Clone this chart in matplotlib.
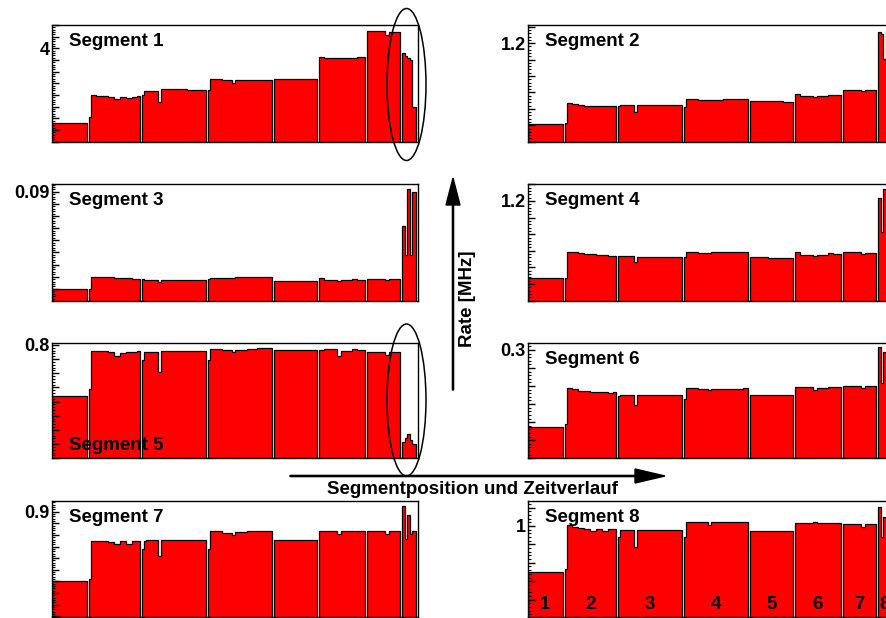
import matplotlib
matplotlib.use('Agg')
import matplotlib.pyplot as plt
import matplotlib.transforms as mtrans
from matplotlib.patches import Ellipse
from matplotlib.ticker import MultipleLocator, FuncFormatter
import numpy as np

plt.rcParams['font.family'] = ['Liberation Sans', 'DejaVu Sans']
plt.rcParams['font.weight'] = 'bold'

# bin edges of the 8 detector positions (same binning in every segment)
seg_edges = [
    [0, 35],
    [37, 39, 44, 50, 56, 62, 68, 74, 80, 85, 88],
    [90, 92, 94, 106, 109, 120, 135, 154],
    [156, 158, 170, 180, 183, 195, 205, 215, 220],
    [222, 240, 255, 265],
    [267, 272, 285, 289, 300, 305, 313],
    [315, 320, 333, 337, 348],
    [350, 353, 355, 358, 360, 362, 364],
]
x_end = 366
pos_labels = ['1', '2', '3', '4', '5', '6', '7', '8']

# rates [MHz] per position, one list per segment
rate_seg1 = [
    [3.363],
    [3.41, 3.60, 3.595, 3.59, 3.585, 3.566, 3.585, 3.575, 3.58, 3.588],
    [3.60, 3.637, 3.637, 3.543, 3.649, 3.648, 3.646],
    [3.64, 3.735, 3.73, 3.706, 3.728, 3.727, 3.728, 3.725],
    [3.74, 3.74, 3.735],
    [3.923, 3.92, 3.915, 3.92, 3.92, 3.922],
    [4.149, 4.145, 4.114, 4.137],
    [3.957, 3.935, 3.915, 3.90, 3.50, 3.50],
]
rate_seg2 = [
    [0.954],
    [0.958, 1.017, 1.015, 1.012, 1.010, 1.008, 1.009, 1.009, 1.010, 1.010],
    [1.009, 1.012, 1.012, 0.989, 1.013, 1.013, 1.013],
    [1.006, 1.030, 1.028, 1.026, 1.028, 1.029, 1.029, 1.030],
    [1.023, 1.023, 1.022],
    [1.045, 1.039, 1.037, 1.038, 1.043, 1.041],
    [1.058, 1.057, 1.053, 1.057],
    [1.233, 1.228, 1.153, 1.238, 1.20, 1.18],
]
rate_seg3 = [
    [0.0501],
    [0.0498, 0.0549, 0.0549, 0.0548, 0.0547, 0.0546, 0.0545, 0.0544, 0.0542, 0.0541],
    [0.0539, 0.0538, 0.0537, 0.0527, 0.0537, 0.0538, 0.0538],
    [0.0540, 0.0546, 0.0546, 0.0546, 0.0547, 0.0548, 0.0549, 0.0547],
    [0.0533, 0.0533, 0.0532],
    [0.0545, 0.0535, 0.0534, 0.0536, 0.0540, 0.0538],
    [0.0539, 0.0539, 0.0538, 0.0539],
    [0.0759, 0.0640, 0.0910, 0.0640, 0.0900, 0.0900],
]
rate_seg4 = [
    [0.969],
    [0.967, 1.047, 1.045, 1.043, 1.041, 1.039, 1.038, 1.036, 1.035, 1.034],
    [1.033, 1.034, 1.034, 1.017, 1.031, 1.030, 1.030],
    [1.032, 1.046, 1.044, 1.043, 1.045, 1.045, 1.046, 1.047],
    [1.030, 1.029, 1.029],
    [1.045, 1.036, 1.035, 1.038, 1.043, 1.040],
    [1.046, 1.045, 1.041, 1.042],
    [1.21, 1.1075, 1.235, 1.20, 1.22, 1.22],
]
rate_seg5 = [
    [0.621],
    [0.645, 0.780, 0.779, 0.777, 0.776, 0.762, 0.773, 0.774, 0.776, 0.777],
    [0.747, 0.776, 0.776, 0.7035, 0.780, 0.779, 0.779],
    [0.747, 0.785, 0.783, 0.775, 0.783, 0.787, 0.788, 0.790],
    [0.782, 0.783, 0.782],
    [0.784, 0.785, 0.761, 0.780, 0.785, 0.784],
    [0.776, 0.776, 0.765, 0.775],
    [0.4586, 0.470, 0.4857, 0.465, 0.451, 0.450],
]
rate_seg6 = [
    [0.2575],
    [0.2588, 0.2788, 0.2782, 0.2775, 0.2770, 0.2767, 0.2768, 0.2766, 0.2764, 0.2766],
    [0.2745, 0.2752, 0.2752, 0.2695, 0.2748, 0.2748, 0.2748],
    [0.2727, 0.2788, 0.2782, 0.2776, 0.2782, 0.2784, 0.2785, 0.2790],
    [0.2749, 0.2748, 0.2752],
    [0.2797, 0.2793, 0.2778, 0.2790, 0.2792, 0.2793],
    [0.2801, 0.2800, 0.2789, 0.2800],
    [0.3015, 0.2815, 0.2987, 0.295, 0.297, 0.297],
]
rate_seg7 = [
    [0.8404],
    [0.842, 0.875, 0.875, 0.8745, 0.874, 0.8725, 0.8745, 0.8725, 0.875, 0.875],
    [0.868, 0.8745, 0.8755, 0.862, 0.8755, 0.8755, 0.8755],
    [0.868, 0.883, 0.8815, 0.880, 0.8825, 0.883, 0.883, 0.883],
    [0.8756, 0.8756, 0.8760],
    [0.883, 0.883, 0.881, 0.883, 0.883, 0.883],
    [0.883, 0.883, 0.881, 0.883],
    [0.9047, 0.8765, 0.8975, 0.881, 0.883, 0.883],
]
rate_seg8 = [
    [0.8755],
    [0.883, 1.002, 0.998, 0.994, 0.992, 0.985, 0.991, 0.985, 0.992, 0.993],
    [0.969, 0.988, 0.988, 0.9416, 0.990, 0.990, 0.989],
    [0.969, 1.012, 1.011, 1.003, 1.010, 1.011, 1.012, 1.012],
    [0.9866, 0.9866, 0.9860],
    [1.0075, 1.0083, 1.0095, 1.0083, 1.0083, 1.008],
    [1.0047, 1.0047, 0.9974, 1.0047],
    [1.0516, 0.9687, 1.0245, 1.02, 1.02, 1.02],
]

rates = [rate_seg1, rate_seg2, rate_seg3, rate_seg4,
         rate_seg5, rate_seg6, rate_seg7, rate_seg8]
names = ['Segment 1', 'Segment 2', 'Segment 3', 'Segment 4',
         'Segment 5', 'Segment 6', 'Segment 7', 'Segment 8']
y_ranges = [(3.2, 4.2), (0.9, 1.255), (0.0451, 0.0931), (0.9, 1.25),
            (0.4, 0.808), (0.24, 0.304), (0.809, 0.909), (0.752, 1.067)]
y_label_tick = [4, 1.2, 0.09, 1.2, 0.8, 0.3, 0.9, 1]
y_step = [0.1, 0.05, 0.005, 0.05, 0.05, 0.01, 0.01, 0.05]


def build(seg_rates):
    edges = [seg_edges[0][0]]
    vals = []
    for i, (e, r) in enumerate(zip(seg_edges, seg_rates)):
        if i > 0:
            vals.append(0.0)  # empty bins between two positions
            edges.append(e[0])
        edges.extend(e[1:])
        vals.extend(r)
    vals.append(0.0)
    edges.append(x_end)
    return np.array(edges, float), np.array(vals, float)


W, H = 886, 618
fig = plt.figure(figsize=(W / 100, H / 100), dpi=100)

rows_px = [(25, 141.7), (184.3, 300.7), (342.7, 458.3), (501.3, 617.3)]
cols_px = [52, 528]
panel_w = 366

for i in range(8):
    top, bot = rows_px[i // 2]
    left = cols_px[i % 2]
    ax = fig.add_axes([left / W, 1 - bot / H, panel_w / W, (bot - top) / H])
    edges, vals = build(rates[i])
    ax.stairs(vals, edges, baseline=0, fill=True, color='#ff0000', lw=0)
    ax.stairs(vals, edges, baseline=0, color='black', lw=0.9)
    ax.set_xlim(0, x_end)
    ax.set_ylim(*y_ranges[i])
    ax.set_xticks([])
    lab = y_label_tick[i]
    st = y_step[i]
    ax.yaxis.set_major_locator(MultipleLocator(st))
    ax.yaxis.set_minor_locator(MultipleLocator(st / 5))
    ax.yaxis.set_major_formatter(FuncFormatter(
        lambda v, p, lab=lab, st=st: ('%g' % lab) if abs(v - lab) < st * 1e-3 else ''))
    ax.tick_params(axis='y', which='major', direction='in', length=5, width=1,
                   pad=1.5, labelsize=13)
    ax.tick_params(axis='y', which='minor', direction='in', length=2.5, width=0.8)
    for sp in ax.spines.values():
        sp.set_linewidth(1.0)

    if i == 4:
        ax.text(0.046, 0.072, names[i], transform=ax.transAxes, fontsize=13.5,
                fontweight='bold', va='baseline', ha='left')
    else:
        ax.text(0.046, 0.82, names[i], transform=ax.transAxes, fontsize=13.5,
                fontweight='bold', va='baseline', ha='left')

    if i == 7:
        tr = mtrans.blended_transform_factory(ax.transData, ax.transAxes)
        for e, t in zip(seg_edges, pos_labels):
            ax.text((e[0] + e[-1]) / 2, 0.069, t, transform=tr, fontsize=13.5,
                    fontweight='bold', ha='center', va='baseline')

# overlay in pixel coordinates for arrows, ellipses and axis titles
ov = fig.add_axes([0, 0, 1, 1], zorder=10)
ov.set_xlim(0, W)
ov.set_ylim(H, 0)
ov.axis('off')
ov.patch.set_alpha(0)

ov.add_patch(Ellipse((406.5, 84.5), 39, 152, fill=False, ec='black', lw=1.1))
ov.add_patch(Ellipse((406.5, 400), 39, 152, fill=False, ec='black', lw=1.1))

ov.arrow(290, 476, 375, 0, width=1.2, head_width=14, head_length=30,
         length_includes_head=True, color='black')
ov.arrow(453, 390, 0, -212, width=1.2, head_width=14, head_length=27,
         length_includes_head=True, color='black')

ov.text(473, 494, 'Segmentposition und Zeitverlauf', fontsize=13.5,
        fontweight='bold', ha='center', va='baseline')
ov.text(468, 299, 'Rate [MHz]', fontsize=13.5, fontweight='bold',
        rotation=90, ha='center', va='center')

fig.savefig('out.png', dpi=100)
